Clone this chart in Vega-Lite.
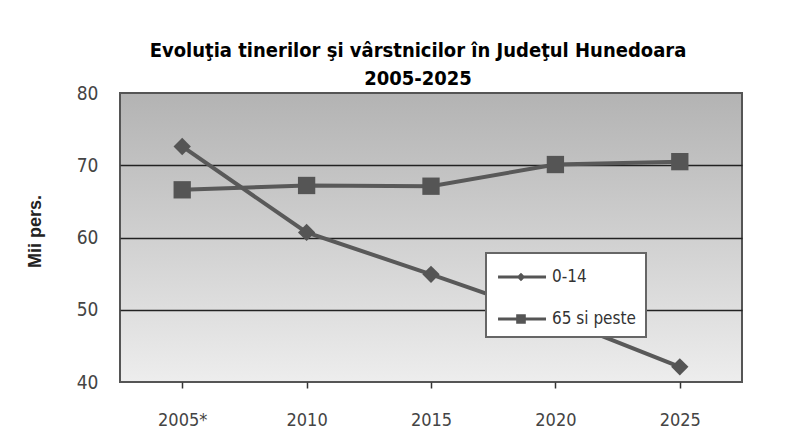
{
  "$schema": "https://vega.github.io/schema/vega-lite/v6.json",
  "width": 622,
  "height": 289,
  "autosize": {"type": "none"},
  "padding": {"left": 120, "top": 93, "right": 63, "bottom": 54},
  "background": "white",
  "title": {
    "text": ["Evoluţia tinerilor şi vârstnicilor în Judeţul Hunedoara", "2005-2025"],
    "font": "DejaVu Sans Condensed",
    "fontSize": 20,
    "fontWeight": "bold",
    "color": "#000000",
    "lineHeight": 28,
    "offset": -5,
    "dx": -13,
    "anchor": "middle"
  },
  "data": {
    "values": [
      {"an": "2005*", "grupa": "0-14", "valoare": 72.6},
      {"an": "2010", "grupa": "0-14", "valoare": 60.7},
      {"an": "2015", "grupa": "0-14", "valoare": 54.9},
      {"an": "2020", "grupa": "0-14", "valoare": 48.9},
      {"an": "2025", "grupa": "0-14", "valoare": 42.1},
      {"an": "2005*", "grupa": "65 si peste", "valoare": 66.6},
      {"an": "2010", "grupa": "65 si peste", "valoare": 67.2},
      {"an": "2015", "grupa": "65 si peste", "valoare": 67.1},
      {"an": "2020", "grupa": "65 si peste", "valoare": 70.1},
      {"an": "2025", "grupa": "65 si peste", "valoare": 70.5}
    ]
  },
  "encoding": {
    "x": {
      "field": "an",
      "type": "ordinal",
      "sort": null,
      "axis": {
        "title": null,
        "labelAngle": 0,
        "ticks": true,
        "tickSize": 6,
        "tickColor": "#333333",
        "tickWidth": 1.5,
        "domain": false,
        "grid": false,
        "labelPadding": 23,
        "labelFont": "DejaVu Sans Condensed",
        "labelFontSize": 18,
        "labelColor": "#444444"
      }
    },
    "y": {
      "field": "valoare",
      "type": "quantitative",
      "scale": {"domain": [40, 80], "nice": false, "zero": false},
      "axis": {
        "title": "Mii pers.",
        "values": [40, 50, 60, 70, 80],
        "grid": true,
        "gridColor": {"condition": {"test": "datum.value == 40 || datum.value == 80", "value": "transparent"}, "value": "#222222"},
        "gridWidth": 1.5,
        "ticks": false,
        "domain": false,
        "labelPadding": 22,
        "labelFont": "DejaVu Sans Condensed",
        "labelFontSize": 19,
        "labelColor": "#444444",
        "titleFont": "Liberation Sans",
        "titleFontSize": 18,
        "titleFontWeight": "bold",
        "titleColor": "#222222",
        "titleAngle": -90,
        "titleX": -85,
        "titleY": 138,
        "titleAlign": "center",
        "titleBaseline": "middle"
      }
    }
  },
  "layer": [
    {
      "mark": {"type": "line", "color": "#595959", "strokeWidth": 4},
      "encoding": {"detail": {"field": "grupa", "type": "nominal"}}
    },
    {
      "mark": {"type": "point", "filled": true, "color": "#555555", "opacity": 1, "size": 300},
      "encoding": {
        "shape": {
          "field": "grupa",
          "type": "nominal",
          "scale": {"domain": ["0-14", "65 si peste"], "range": ["diamond", "square"]},
          "legend": null
        }
      }
    },
    {
      "transform": [{"filter": "datum.valoare > 1000"}],
      "mark": {"type": "point", "filled": true, "color": "#555555", "opacity": 1},
      "encoding": {
        "shape": {
          "field": "grupa",
          "type": "nominal",
          "scale": {
            "domain": ["0-14", "65 si peste"],
            "range": [
              "M-0.92,-0.12H2.77V0.12H-0.92ZM0.846,-0.33L1.176,0L0.846,0.33L0.516,0Z",
              "M-0.92,-0.12H2.77V0.12H-0.92ZM0.476,-0.37H1.216V0.37H0.476Z"
            ]
          },
          "legend": {
            "title": null,
            "orient": "none",
            "legendX": 366,
            "legendY": 160,
            "fillColor": "white",
            "strokeColor": "#666666",
            "padding": 10,
            "symbolSize": 676,
            "symbolFillColor": "#555555",
            "symbolOpacity": 1,
            "rowPadding": 20,
            "labelOffset": 28,
            "labelFont": "DejaVu Sans Condensed",
            "labelFontSize": 17,
            "labelColor": "#333333"
          }
        }
      }
    }
  ],
  "resolve": {"scale": {"shape": "independent"}, "legend": {"shape": "independent"}},
  "config": {
    "view": {
      "fill": {
        "gradient": "linear",
        "x1": 0, "y1": 0, "x2": 0, "y2": 1,
        "stops": [
          {"offset": 0, "color": "#b3b3b3"},
          {"offset": 1, "color": "#ededed"}
        ]
      },
      "stroke": "#555555",
      "strokeWidth": 2
    },
    "legend": {"strokeWidth": 2}
  }
}
